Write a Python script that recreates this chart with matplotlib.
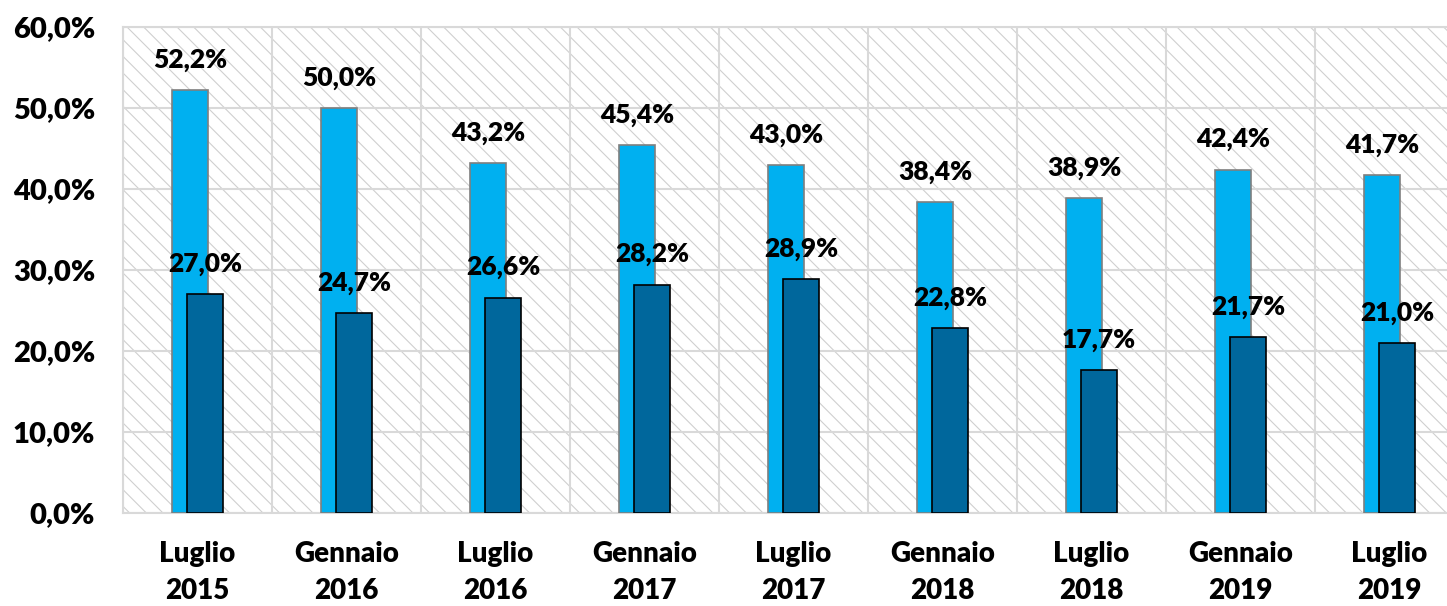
import numpy as np
import matplotlib.pyplot as plt
from matplotlib.patches import Rectangle
from matplotlib.ticker import FuncFormatter

categories = ['Luglio\n2015', 'Gennaio\n2016', 'Luglio\n2016', 'Gennaio\n2017', 'Luglio\n2017',
              'Gennaio\n2018', 'Luglio\n2018', 'Gennaio\n2019', 'Luglio\n2019']
serie_chiara = [52.2, 50.0, 43.2, 45.4, 43.0, 38.4, 38.9, 42.4, 41.7]
serie_scura = [27.0, 24.7, 26.6, 28.2, 28.9, 22.8, 17.7, 21.7, 21.0]

plt.rcParams['font.family'] = ['Lato', 'DejaVu Sans']
plt.rcParams['hatch.linewidth'] = 0.8

fig = plt.figure(figsize=(14.47, 6.06), dpi=100)
ax = fig.add_axes([0.085, 0.1535, 0.9267, 0.802])

x = np.arange(len(categories))
w = 0.245
off = 0.05
peso = 'heavy'

# sfondo tratteggiato
bg = Rectangle((0, 0), 1, 1, transform=ax.transAxes, facecolor='white',
               edgecolor='#cfcfcf', hatch='\\\\', linewidth=0, zorder=0)
ax.add_patch(bg)

ax.bar(x - off, serie_chiara, w, color='#00b0f0', edgecolor='#7f7f7f', linewidth=1.2, zorder=3)
ax.bar(x + off, serie_scura, w, color='#00679c', edgecolor='black', linewidth=1.2, zorder=4)

for i in range(len(x)):
    ax.annotate(f'{serie_chiara[i]:.1f}%'.replace('.', ','), (x[i] - off, serie_chiara[i]),
                xytext=(0, 13), textcoords='offset points', ha='center', va='bottom',
                fontsize=19, fontweight=peso, zorder=5)
    ax.annotate(f'{serie_scura[i]:.1f}%'.replace('.', ','), (x[i] + off, serie_scura[i]),
                xytext=(0, 13), textcoords='offset points', ha='center', va='bottom',
                fontsize=19, fontweight=peso, zorder=5)

ax.set_xlim(-0.5, len(x) - 0.5)
ax.set_ylim(0, 60)
ax.set_yticks(np.arange(0, 61, 10))
ax.yaxis.set_major_formatter(FuncFormatter(lambda v, p: f'{v:.1f}%'.replace('.', ',')))
ax.set_xticks(x)
ax.set_xticklabels(categories, fontsize=20, fontweight=peso, linespacing=1.55)
ax.set_xticks(np.arange(-0.5, len(x), 1), minor=True)
ax.tick_params(axis='y', labelsize=21, length=0, pad=20)
for t in ax.get_yticklabels():
    t.set_fontweight(peso)
ax.tick_params(axis='x', which='both', length=0, pad=20)

ax.grid(axis='y', color='#d9d9d9', linewidth=1.5, zorder=1)
ax.grid(axis='x', which='minor', color='#d9d9d9', linewidth=1.5, zorder=1)
ax.set_axisbelow(True)
for s in ax.spines.values():
    s.set_color('#d9d9d9')
    s.set_linewidth(1.5)

plt.savefig('out.png', dpi=100)
